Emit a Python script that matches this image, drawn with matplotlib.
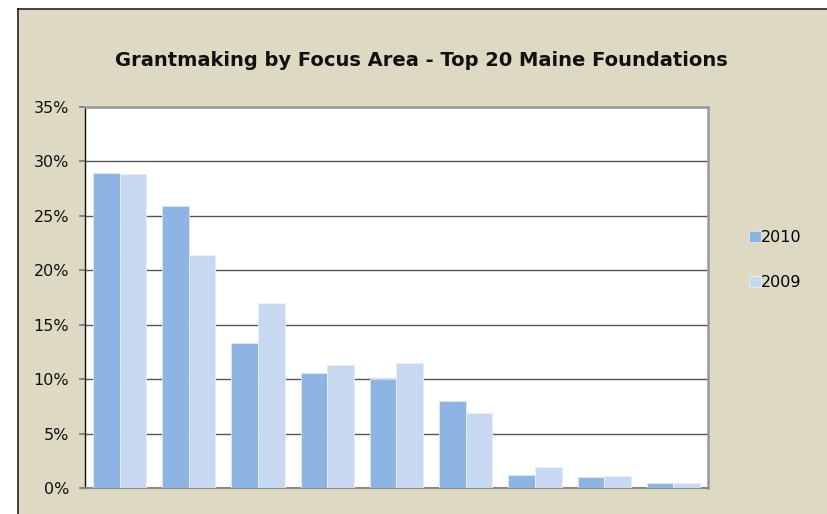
import numpy as np
import matplotlib
matplotlib.use('Agg')
import matplotlib.pyplot as plt
from matplotlib.patches import Rectangle
from matplotlib.ticker import PercentFormatter

# data
categories = ['A', 'B', 'C', 'D', 'E', 'F', 'G', 'H', 'I']
vals_2010 = [28.9, 25.9, 13.3, 10.6, 10.0, 8.0, 1.2, 1.0, 0.5]
vals_2009 = [28.8, 21.4, 17.0, 11.3, 11.5, 6.9, 1.9, 1.1, 0.5]
yticks = [0, 5, 10, 15, 20, 25, 30, 35]

bg = '#DDD9C3'
c2010 = '#8EB4E3'
c2009 = '#C6D9F1'

plt.rcParams['font.family'] = ['DejaVu Sans']

fig = plt.figure(figsize=(8.28, 5.14), dpi=100)
fig.patch.set_facecolor('white')

# beige chart area with dark outline on left/top
W, H = 828, 514
fig.patches.append(Rectangle((18 / W, 0), 1 - 18 / W, 1 - 9 / H, transform=fig.transFigure,
                             facecolor=bg, edgecolor='none', zorder=-5))
fig.add_artist(plt.Line2D([18 / W, 18 / W], [0, 1 - 9 / H], transform=fig.transFigure,
                          color='#222222', lw=1.2))
fig.add_artist(plt.Line2D([18 / W, 1], [1 - 9 / H, 1 - 9 / H], transform=fig.transFigure,
                          color='#222222', lw=1.2))

ax = fig.add_axes([85 / W, 1 - 488 / H, (708 - 85) / W, (488 - 107) / H])
ax.set_zorder(5)
ax.set_facecolor('white')

x = np.arange(len(categories))
w = 0.385
ax.bar(x - w / 2, vals_2010, w, color=c2010, edgecolor='#DCE6F5', linewidth=0.6, label='2010', zorder=3)
ax.bar(x + w / 2, vals_2009, w, color=c2009, edgecolor='#E8EFF9', linewidth=0.6, label='2009', zorder=3)

ax.set_xlim(-0.5, len(categories) - 0.5)
ax.set_ylim(0, 35)
ax.set_yticks(yticks)
ax.yaxis.set_major_formatter(PercentFormatter(decimals=0))
ax.set_xticks([])
ax.grid(axis='y', color='#555555', linewidth=1.0, zorder=0)
ax.set_axisbelow(True)
ax.tick_params(axis='y', length=4.5, width=1.2, color='#777777', labelsize=11.5, pad=7,
               labelcolor='#111111')

for s in ['top', 'right']:
    ax.spines[s].set_color('#999999')
    ax.spines[s].set_linewidth(1.8)
ax.spines['left'].set_color('#111111')
ax.spines['left'].set_linewidth(1.0)
ax.spines['bottom'].set_color('#888888')
ax.spines['bottom'].set_linewidth(1.5)

fig.text(421 / W, 1 - 60 / H, 'Grantmaking by Focus Area - Top 20 Maine Foundations',
         ha='center', va='center', fontsize=14, fontweight='bold', color='#111111')

leg = fig.legend(loc='center left', bbox_to_anchor=(735 / W, 1 - 260 / H), frameon=False,
                 handlelength=0.7, handleheight=0.7, handletextpad=0.05,
                 labelspacing=1.9, fontsize=11.5)

plt.savefig('out.png', dpi=100, facecolor=fig.get_facecolor())
